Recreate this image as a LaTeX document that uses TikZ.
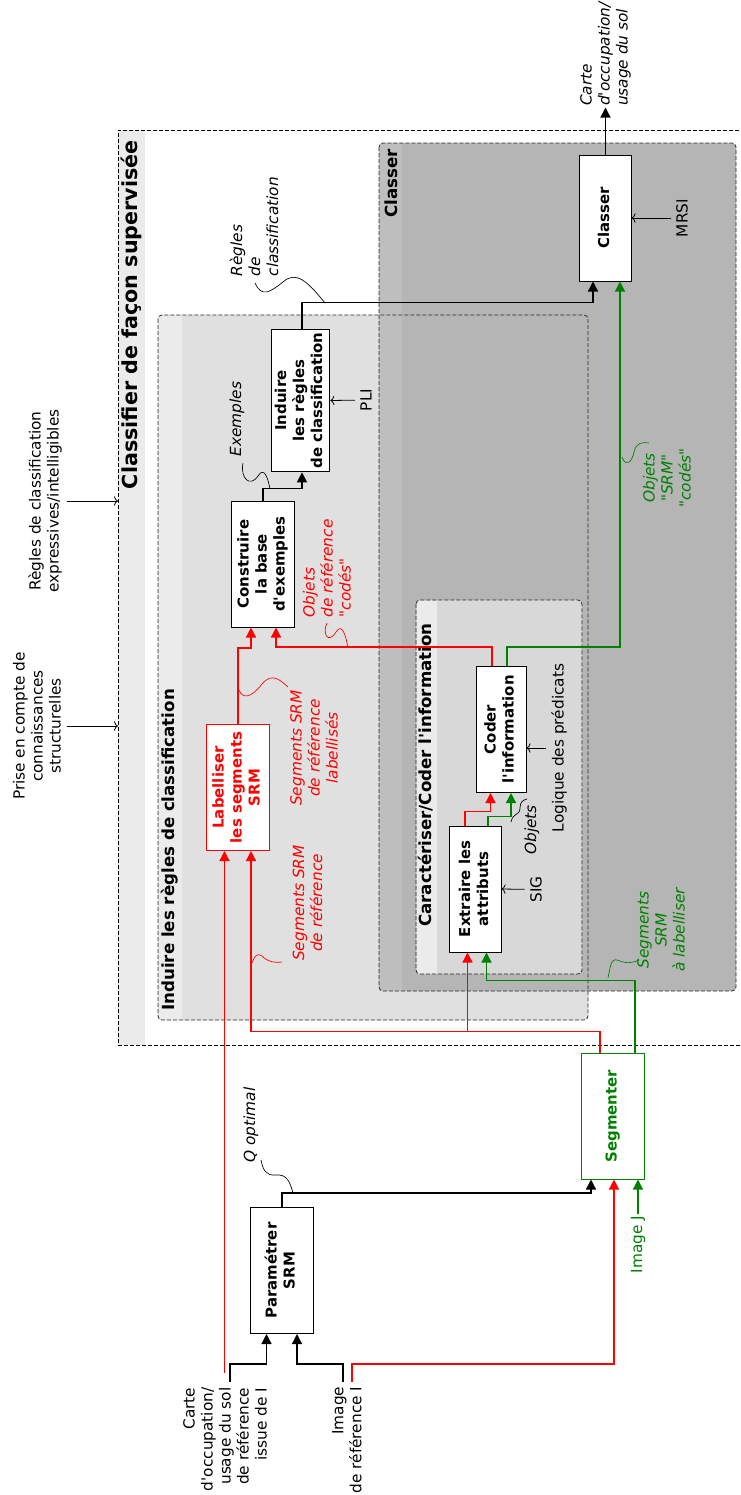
\documentclass[tikz,border=0pt]{standalone}
\usepackage{fontspec}
\setmainfont{DejaVu Sans}[Ligatures=TeXOff]
\usepackage{graphicx}
\usetikzlibrary{arrows.meta, calc, positioning}
\definecolor{lblred}{RGB}{255, 0, 0}
\definecolor{lblgreen}{RGB}{0, 128, 0}
\definecolor{striplight}{RGB}{235, 235, 235}
\definecolor{indfill}{RGB}{224, 224, 224}
\definecolor{clsfill}{RGB}{181, 181, 181}
\definecolor{clsstrip}{RGB}{190, 190, 190}
\definecolor{carfill}{RGB}{216, 216, 216}
\definecolor{grpline}{RGB}{40, 40, 40}
\newcommand{\vt}[1]{\rotatebox{90}{\begin{tabular}{@{}c@{}}#1\end{tabular}}}
\tikzset{
    stage/.style={
        rectangle, draw=#1, fill=white, text=#1,
        line width=0.75pt, inner sep=0pt, minimum height=94.5pt,
        font=\fontsize{11.2}{13.5}\selectfont\bfseries
    },
    stage/.default=black,
    frame/.style={draw, dashed, dash pattern=on 3pt off 1.5pt, line width=0.5pt, inner sep=0pt},
    grp/.style={draw=grpline, dashed, dash pattern=on 3pt off 1.5pt, line width=0.6pt, rounded corners=3pt},
    grptitle/.style={rotate=90, inner sep=0pt, font=\fontsize{12.5}{14}\selectfont\bfseries},
    lbl/.style={rotate=90, inner sep=1pt, align=center, font=\fontsize{11.5}{13.5}\selectfont},
    note/.style={lbl, text=#1, font=\fontsize{11.5}{13.5}\selectfont\itshape},
    note/.default=black,
    flow/.style={-{Triangle[length=7.5pt, width=7.5pt]}, line width=1pt, draw=#1},
    flow/.default=black,
    ctx/.style={-{To[length=3pt, width=7pt]}, line width=0.6pt, shorten <=3pt},
    squig/.style={line width=0.5pt, draw=#1},
    squig/.default=black
}
\begin{document}
\begin{tikzpicture}[x=0.75pt, y=-0.75pt]
    \useasboundingbox (0,0) rectangle (740,1495);

    % outer frame
    \fill[striplight] (118,130) rectangle (145,1045);
    \node[frame, anchor=north west, minimum width=481.5pt, minimum height=686.25pt] (supervise) at (118,130) {};
    \node[grptitle, anchor=east, font=\fontsize{15.5}{17}\selectfont\bfseries] at (131,140) {Classifier de façon supervisée};

    % groups
    \fill[indfill, rounded corners=3pt] (158,315) rectangle (588,1020);
    \fill[striplight] (158.5,315.5) rectangle (182,1019.5);
    \fill[clsfill, rounded corners=3pt] (379,143) rectangle (736,991);
    \fill[clsstrip] (379.5,143.5) rectangle (402,990.5);
    \draw[grp] (158,315) rectangle (588,1020);
    \draw[grp] (379,143) rectangle (736,991);
    \fill[carfill, rounded corners=3pt] (416,600) rectangle (582,974);
    \fill[striplight] (416.5,600.5) rectangle (437,973.5);
    \draw[grp] (416,600) rectangle (582,974);
    \node[grptitle, anchor=west] at (170,1011) {Induire les règles de classification};
    \node[grptitle, anchor=east] at (391,149) {Classer};
    \node[grptitle, anchor=west] at (426,927) {Caractériser/Coder l'information};

    % boxes
    \node[stage, minimum width=38.3pt] (classer) at (605.5,218) {\vt{Classer}};
    \node[stage, minimum width=44pt, minimum height=107pt] (induire) at (300.5,400.5) {\vt{Induire\\les règles\\de classification}};
    \node[stage, minimum width=47.6pt] (constr) at (263,564) {\vt{Construire\\la base\\d'exemples}};
    \node[stage=lblred, minimum width=47.6pt] (labelliser) at (238,787.5) {\vt{Labelliser\\les segments\\SRM}};
    \node[stage, minimum width=37.5pt] (coder) at (501,729.5) {\vt{Coder\\l'information}};
    \node[stage, minimum width=38.3pt] (extr) at (475.5,889) {\vt{Extraire les\\attributs}};
    \node[stage=lblgreen, minimum width=46.8pt] (segm) at (613,1116) {\vt{Segmenter}};
    \node[stage, minimum width=47.6pt] (param) at (282,1270.5) {\vt{Paramétrer\\SRM}};

    % inputs and outputs
    \node[lbl, anchor=east, align=right] (carte) at (225,1386) {Carte\\d'occupation/\\usage du sol\\de référence\\issue de I};
    \node[lbl, anchor=east, align=right] (imgref) at (347,1385) {Image\\de référence I};
    \node[lbl, anchor=east, text=lblgreen] (imgj) at (638,1214) {Image J};
    \node[note, anchor=west, align=left] (sortie) at ($(classer.north)+(0,-47)$) {Carte\\d'occupation/\\usage du sol};
    \node[lbl] (prise) at (37,726) {Prise en compte de\\connaissances\\structurelles};
    \node[lbl] (regles) at (45,501) {Règles de classification\\expressives/intelligibles};
    \node[lbl] (mrsi) at (682,218) {MRSI};
    \node[lbl] (pli) at (366,400) {PLI};
    \node[lbl] (sig) at (536,889.5) {SIG};
    \node[lbl] (logique) at (559,748) {Logique des prédicats};
    \coordinate (carteB) at (230,1382);
    \coordinate (carteR) at (224.5,1373);
    \coordinate (imgB) at (343,1382);
    \coordinate (imgR) at (352,1382);

    % flow labels
    \node[note, anchor=west, align=left] (nregles) at (254,278) {Règles\\de\\classification};
    \node[note, anchor=west] (nexemples) at (237,458) {Exemples};
    \node[note=lblred, anchor=west, align=left] (nobjref) at (327,619) {Objets\\de référence\\"codés"};
    \node[note=lblgreen] (nobjsrm) at (667,478) {Objets\\"SRM"\\"codés"};
    \node[note=lblred] (nseglab) at (314,748) {Segments SRM\\de référence\\labellisés};
    \node[note=lblred] (nsegref) at (307.5,903) {Segments SRM\\de référence};
    \node[note=lblgreen] (nsegalab) at (661,930) {Segments\\SRM\\à labelliser};
    \node[note] (nobjets) at (532,830) {Objets};
    \node[note, anchor=west] (nq) at (251,1164) {Q optimal};

    % connectors
    \draw[flow] (carteB) -- ++(0,-18) -| ($(param.south)+(-15.5,0)$);
    \draw[flow] (imgB) -- ++(0,-18) -| ($(param.south)+(15,0)$);
    \draw[flow=lblred] (imgR) -- ++(0,-18) -| ($(segm.south)+(1,0)$);
    \draw[flow=lblred] (carteR) -- (carteR |- labelliser.south);
    \draw[flow=lblgreen] (imgj.east) -- ($(segm.south)+(25,0)$);
    \draw[flow] (param.north) -- ++(0,-14) -| ($(segm.south)+(-22,0)$);
    \draw[flow=lblred] ($(segm.north)+(-13,0)$) -- ++(0,-21) -| ($(labelliser.south)+(13,0)$);
    \draw[flow=lblred] ($(segm.north)+(-13,-21)$) -| ($(extr.south)+(-8,0)$);
    \draw[flow=lblgreen] ($(segm.north)+(22,0)$) -- ++(0,-72) -| ($(extr.south)+(11,0)$);
    \draw[flow=lblred] ($(extr.north)+(-10.5,0)$) -- ++(0,-14) -| ($(coder.south)+(-10.5,0)$);
    \draw[flow=lblgreen] ($(extr.north)+(12.5,0)$) -- ++(0,-9) -| ($(coder.south)+(10,0)$);
    \draw[flow=lblred] ($(coder.north)+(-9,0)$) -- ++(0,-19) -| ($(constr.south)+(13,0)$);
    \draw[flow=lblgreen] ($(coder.north)+(6,0)$) -- ++(0,-19) -| ($(classer.south)+(14.5,0)$);
    \draw[flow=lblred] (labelliser.north) -- ++(0,-76) -| ($(constr.south)+(-12,0)$);
    \draw[flow] (constr.north) -- ++(0,-12) -| ($(induire.south)+(1.5,0)$);
    \draw[flow] ($(induire.north)+(1.5,0)$) -- ++(0,-26) -| ($(classer.south)+(-12.5,0)$);
    \draw[flow] (classer.north) -- (sortie.west);

    % context arrows
    \draw[ctx] (mrsi) -- (classer.east);
    \draw[ctx] (pli) -- (induire.east);
    \draw[ctx] (sig) -- (extr.east);
    \draw[ctx] (logique) -- (logique -| coder.east);
    \draw[ctx] (regles) -- (regles -| supervise.west);
    \draw[ctx] (prise) -- (prise -| supervise.west);

    % squiggles
    \draw[squig] (255,283) .. controls (262,298) and (270,292) .. (283,282) .. controls (296,270) and (308,282) .. (325,303);
    \draw[squig] (243,463) .. controls (240,478) and (250,488) .. (258,476) .. controls (264,466) and (268,478) .. (270,489);
    \draw[squig=lblred] (327,623) .. controls (322,633) and (328,645) .. (336,632) .. controls (342,622) and (346,636) .. (348,648);
    \draw[squig=lblgreen] (622,457) .. controls (626,468) and (632,462) .. (634,452) .. controls (636,442) and (643,442) .. (649,443);
    \draw[squig=lblred] (239,690) .. controls (243,700) and (252,697) .. (262,684) .. controls (272,672) and (280,680) .. (288,687);
    \draw[squig=lblred] (252,963) .. controls (254,958) and (256,952) .. (262,956) .. controls (268,962) and (274,963) .. (282,962);
    \draw[squig=lblgreen] (608,978) .. controls (610,968) and (611,958) .. (617,960) .. controls (624,963) and (630,964) .. (639,960);
    \draw[squig] (511,822) .. controls (513,812) and (520,816) .. (520,808) .. controls (520,802) and (523,800) .. (527,799);
    \draw[squig] (261,1160) .. controls (263,1170) and (266,1176) .. (276,1175) .. controls (287,1174) and (290,1182) .. (293,1193);
\end{tikzpicture}
\end{document}
